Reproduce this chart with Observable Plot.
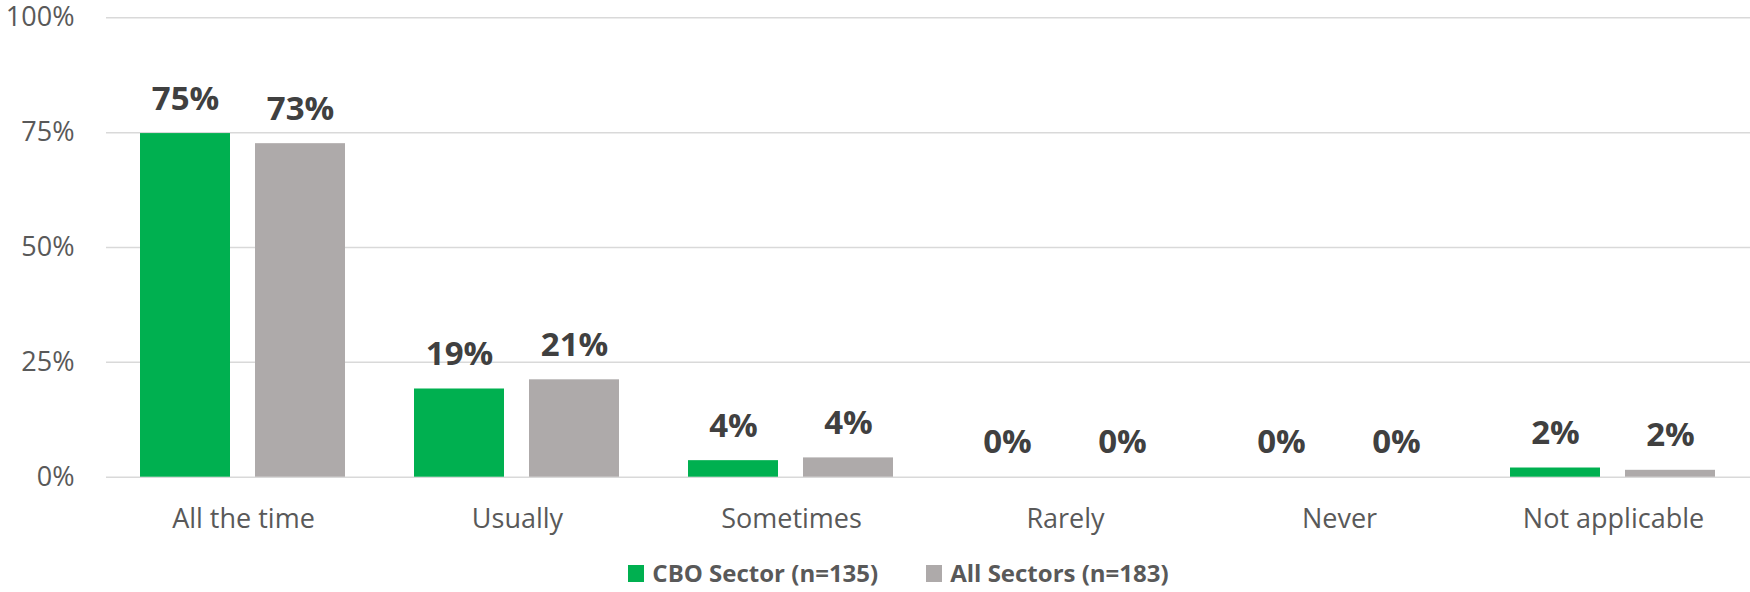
<!DOCTYPE html>
<html>
<head>
<meta charset="utf-8">
<script src="https://cdn.jsdelivr.net/npm/d3@7"></script>
<script src="https://cdn.jsdelivr.net/npm/@observablehq/plot@0.6"></script>
<style>
  html, body { margin: 0; padding: 0; background: #fff; }
  #chart svg { display: block; overflow: visible; }
  .legend { display: flex; justify-content: center; align-items: center; padding-left: 47px; margin-top: 10px;
    font-family: "Open Sans", sans-serif; font-weight: bold; font-size: 24px; line-height: 26px; color: #595959; }
  .legend .item { display: flex; align-items: center; }
  .legend .item + .item { margin-left: 48px; }
  .legend .sw { width: 16px; height: 17px; margin-right: 8px; display: inline-block; }
</style>
</head>
<body>
<div id="chart"></div>
<div class="legend" id="legend"></div>
<script>
const categories = ["All the time", "Usually", "Sometimes", "Rarely", "Never", "Not applicable"];
const seriesNames = ["CBO Sector (n=135)", "All Sectors (n=183)"];
const cboValues = [74.8, 19.2, 3.6, 0, 0, 2.0];
const allValues = [72.6, 21.2, 4.2, 0, 0, 1.5];
const yTicks = [0, 25, 50, 75, 100];
const colors = ["#00b050", "#aeaaaa"];

const data = [];
categories.forEach((c, i) => {
  data.push({category: c, series: seriesNames[0], value: cboValues[i]});
  data.push({category: c, series: seriesNames[1], value: allValues[i]});
});

const plot = Plot.plot({
  width: 1750,
  height: 550,
  marginLeft: 105,
  marginRight: 0,
  marginTop: 17.3,
  marginBottom: 73.3,
  style: {fontFamily: "Open Sans", fontSize: "27px", color: "#595959", background: "#fff", overflow: "visible"},
  fx: {domain: categories, padding: 0, axis: "bottom", tickSize: 0, tickPadding: 32, label: null},
  x: {domain: seriesNames, paddingInner: 0.2165, paddingOuter: 0.295, axis: null},
  y: {domain: [0, 100], ticks: yTicks, tickFormat: d => d + "%", tickSize: 0, tickPadding: 32, label: null},
  color: {domain: seriesNames, range: colors},
  marks: [
    Plot.gridY(yTicks, {stroke: "#d9d9d9", strokeOpacity: 1, strokeWidth: 1.5}),
    Plot.barY(data, {fx: "category", x: "series", y: "value", fill: "series"}),
    Plot.text(data, {fx: "category", x: "series", y: "value", text: d => Math.round(d.value) + "%",
      lineAnchor: "bottom", dy: -24, fontSize: 33, fontWeight: "bold", fill: "#404040"})
  ]
});
document.getElementById("chart").appendChild(plot);

const legend = document.getElementById("legend");
seriesNames.forEach((s, i) => {
  const item = document.createElement("div");
  item.className = "item";
  const sw = document.createElement("span");
  sw.className = "sw";
  sw.style.background = colors[i];
  const t = document.createElement("span");
  t.textContent = s;
  item.appendChild(sw);
  item.appendChild(t);
  legend.appendChild(item);
});
</script>
</body>
</html>
